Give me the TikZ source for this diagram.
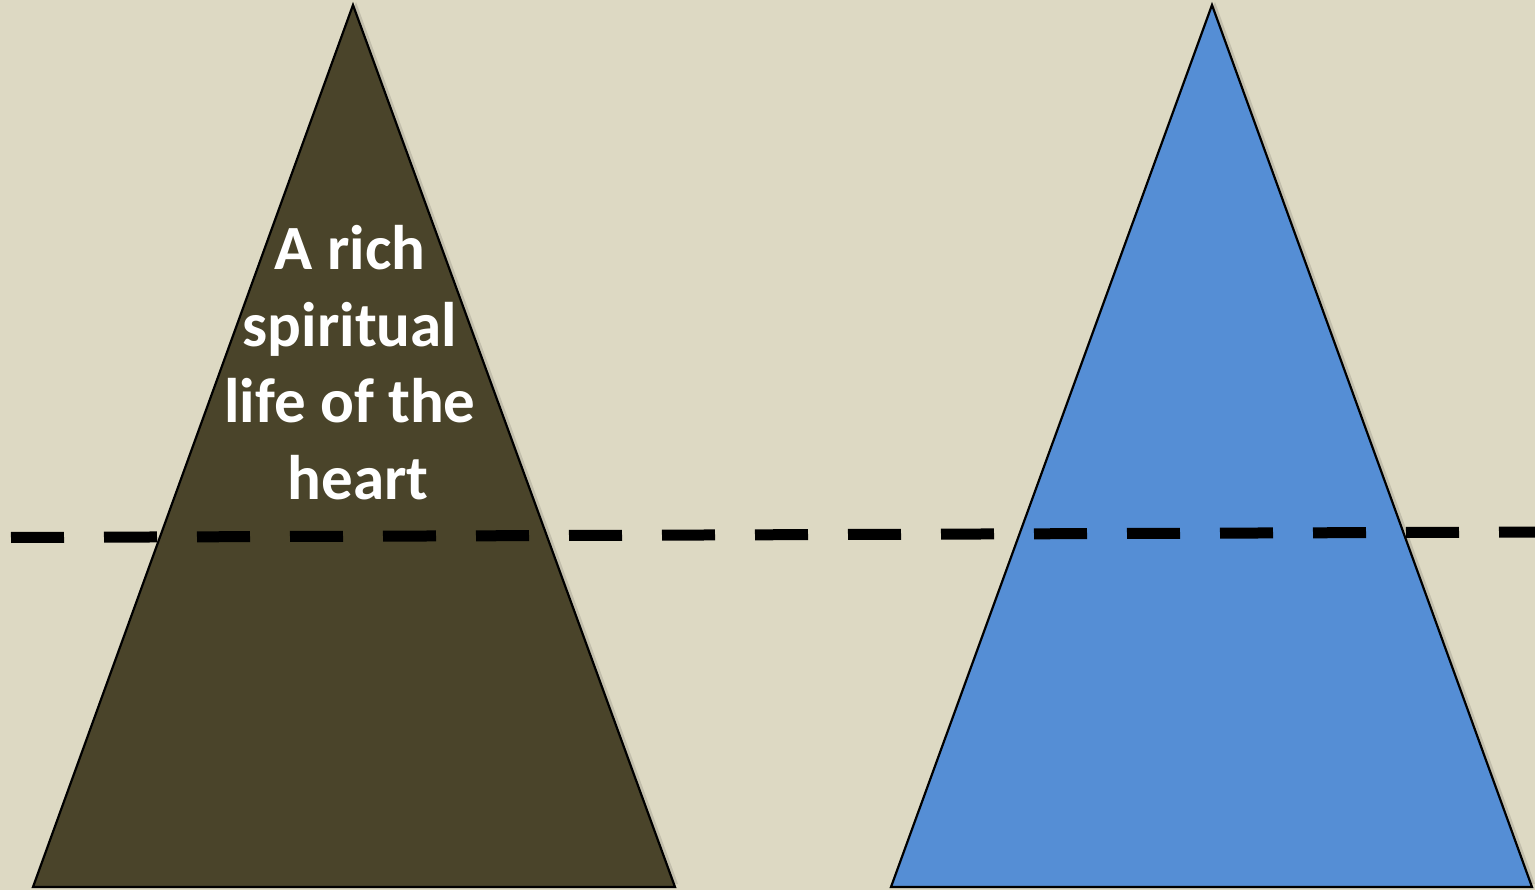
\documentclass[tikz,border=0pt]{standalone}
\usepackage{fontspec}
\setmainfont{Carlito}
\definecolor{bgc}{HTML}{DDD9C3}
\definecolor{olive}{HTML}{4A442A}
\definecolor{blueT}{HTML}{558ED5}
\begin{document}
\begin{tikzpicture}[x=1pt,y=-1pt,
  tri/.style={draw=black,line width=2.2pt,line join=miter},
  lbl/.style={text=white,font=\bfseries\fontsize{63}{77}\selectfont,anchor=base,inner sep=0pt},
  dashline/.style={line width=11pt,dash pattern=on 53pt off 40pt}]
\fill[bgc] (0,0) rectangle (1535,890);
\useasboundingbox (0,0) rectangle (1535,890);
\coordinate (LA) at (353,5);
\coordinate (LL) at (33,887);
\coordinate (LR) at (675,887);
\coordinate (RA) at (1212,5);
\coordinate (RL) at (891,887);
\coordinate (RR) at (1532,887);
\fill[black,opacity=0.12] ([xshift=3pt,yshift=3pt]LA) -- ([xshift=3pt,yshift=3pt]LL) -- ([xshift=3pt,yshift=3pt]LR) -- cycle;
\fill[black,opacity=0.12] ([xshift=3pt,yshift=3pt]RA) -- ([xshift=3pt,yshift=3pt]RL) -- ([xshift=3pt,yshift=3pt]RR) -- cycle;
\draw[tri,fill=olive] (LA) -- (LL) -- (LR) -- cycle;
\draw[tri,fill=blueT] (RA) -- (RL) -- (RR) -- cycle;
\node[lbl] (t1) at (350,270) {A rich};
\node[lbl] (t2) at (350,347) {spiritual};
\node[lbl] (t3) at (350,423) {life of the};
\node[lbl] (t4) at (358,500) {heart};
\coordinate (D1) at (11,537.5);
\coordinate (D2) at (1535,532);
\draw[dashline,black] (D1) -- (D2);
\end{tikzpicture}
\end{document}
